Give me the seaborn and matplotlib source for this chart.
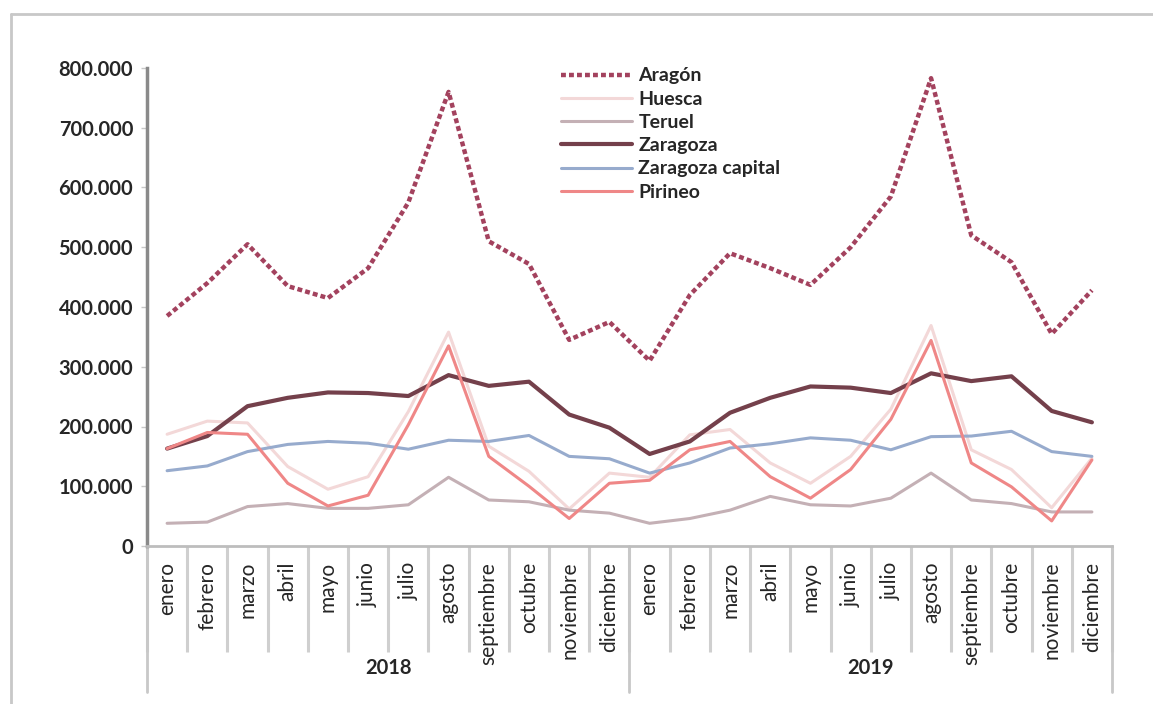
import numpy as np
import pandas as pd
import matplotlib
matplotlib.use('Agg')
import matplotlib.pyplot as plt
import seaborn as sns
from matplotlib.lines import Line2D
from matplotlib.ticker import FuncFormatter

################################################################################

meses = ['enero', 'febrero', 'marzo', 'abril', 'mayo', 'junio', 'julio',
         'agosto', 'septiembre', 'octubre', 'noviembre', 'diciembre']
years = ['2018', '2019']
labels = meses * 2

aragon = [385, 440, 505, 435, 415, 465, 575, 760, 510, 472, 345, 375,
          310, 420, 490, 465, 437, 500, 585, 783, 520, 475, 355, 428]
huesca = [187, 209, 206, 133, 95, 116, 225, 358, 167, 125, 62, 122,
          115, 186, 195, 139, 105, 150, 229, 369, 161, 128, 64, 147]
teruel = [38, 40, 66, 71, 63, 63, 69, 115, 77, 74, 60, 55,
          38, 46, 60, 83, 69, 67, 80, 122, 77, 71, 57, 57]
zaragoza = [163, 184, 234, 248, 257, 256, 251, 286, 268, 275, 220, 198,
            154, 175, 223, 248, 267, 265, 256, 289, 276, 284, 226, 207]
zgz_capital = [126, 134, 158, 170, 175, 172, 162, 177, 175, 185, 150, 146,
               122, 139, 164, 171, 181, 177, 161, 183, 184, 192, 158, 150]
pirineo = [163, 190, 187, 105, 67, 85, 203, 335, 150, 100, 46, 105,
           110, 161, 175, 116, 80, 128, 212, 344, 139, 99, 42, 144]

series = {
    'Aragón': aragon,
    'Huesca': huesca,
    'Teruel': teruel,
    'Zaragoza': zaragoza,
    'Zaragoza capital': zgz_capital,
    'Pirineo': pirineo,
}

styles = {
    'Aragón': dict(color='#a3425e', lw=3.2, ls=(0, (1.1, 0.7))),
    'Huesca': dict(color='#f3d8d8', lw=2.2, ls='-'),
    'Teruel': dict(color='#c4b0b5', lw=2.2, ls='-'),
    'Zaragoza': dict(color='#74404b', lw=3.0, ls='-'),
    'Zaragoza capital': dict(color='#97abcd', lw=2.2, ls='-'),
    'Pirineo': dict(color='#ef8787', lw=2.2, ls='-'),
}

################################################################################

sns.set_style('white')
plt.rcParams['font.family'] = ['Lato', 'DejaVu Sans']

fig = plt.figure(figsize=(11.53, 7.04), dpi=100)
ax = fig.add_axes([147 / 1153, 1 - 546 / 704, (1112 - 147) / 1153, (546 - 68) / 704])

x = np.arange(len(labels))
for name, values in series.items():
    st = styles[name]
    sns.lineplot(x=x, y=np.array(values) * 1000, ax=ax, color=st['color'],
                 linewidth=st['lw'], linestyle=st['ls'], label=name,
                 solid_joinstyle='round', solid_capstyle='round')

ax.set_xlim(-0.5, len(labels) - 0.5)
ax.set_ylim(0, 800000)
ax.set_yticks(np.arange(0, 800001, 100000))
ax.yaxis.set_major_formatter(FuncFormatter(lambda v, p: f'{v:,.0f}'.replace(',', '.')))
for t in ax.get_yticklabels():
    t.set_fontweight('bold')
ax.tick_params(axis='y', left=True, labelsize=14.5, length=4, width=1, color='#c8c8c8', pad=6)

ax.set_xticks(x)
ax.set_xticklabels(labels, rotation=90, fontsize=15)
ax.tick_params(axis='x', which='major', bottom=False, pad=8)
ax.set_xticks(np.arange(-0.5, len(labels), 1), minor=True)
ax.tick_params(axis='x', which='minor', bottom=True, length=76, width=2.2,
               color='#cfcfcf', direction='out')

for side in ['top', 'right']:
    ax.spines[side].set_visible(False)
ax.spines['left'].set_color('#8a8a8a')
ax.spines['left'].set_linewidth(2.5)
ax.spines['bottom'].set_color('#bdbdbd')
ax.spines['bottom'].set_linewidth(2)

# year separators and labels
trans = ax.get_xaxis_transform()
for xb in [-0.5, 11.5, 23.5]:
    ax.add_line(Line2D([xb, xb], [0, -146 / 478], transform=trans, color='#c8c8c8',
                       lw=2, clip_on=False))
for i, yr in enumerate(years):
    ax.text(i * 12 + 5.5, -122 / 478, yr, transform=trans, ha='center', va='center',
            fontsize=14.5, fontweight='bold')

handles, names = ax.get_legend_handles_labels()
leg = ax.legend(handles, names, loc='upper left', bbox_to_anchor=(543 / 1153, 1 - 50 / 704),
                bbox_transform=fig.transFigure, frameon=False, handlelength=3.7,
                handletextpad=0.3, labelspacing=0.32, prop=dict(size=14, weight='bold'))

# outer frame
fig.add_artist(Line2D([11 / 1153, 1], [1 - 14 / 704, 1 - 14 / 704], transform=fig.transFigure,
                      color='#c8c8c8', lw=2))
fig.add_artist(Line2D([11 / 1153, 11 / 1153], [0, 1 - 14 / 704], transform=fig.transFigure,
                      color='#c8c8c8', lw=2))

fig.savefig('out.png', dpi=100)
